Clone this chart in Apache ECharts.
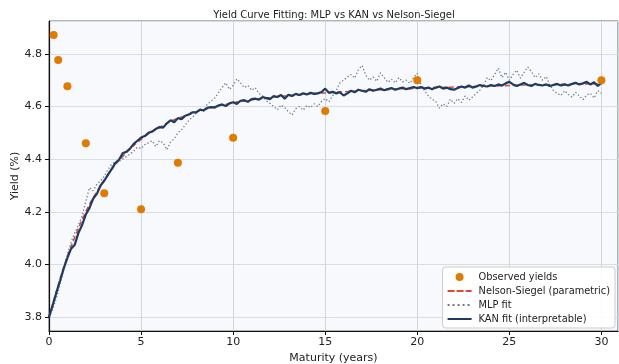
<!DOCTYPE html>
<html>
<head>
<meta charset="utf-8">
<script src="https://cdn.jsdelivr.net/npm/echarts@6/dist/echarts.min.js"></script>
<style>
  html, body { margin: 0; padding: 0; background: #fff; }
  #yieldChart { width: 619px; height: 364px; }
</style>
</head>
<body>
<div id="yieldChart"></div>
<script>
// observed points
var obsMaturity = [0.25, 0.5, 1, 2, 3, 5, 7, 10, 15, 20, 30];
var obsYield = [4.872, 4.777, 4.677, 4.46, 4.27, 4.21, 4.386, 4.481, 4.583, 4.70, 4.70];

// Nelson-Siegel, every 0.5 year
var nsYield = [3.80, 3.92, 4.03, 4.12, 4.20, 4.265, 4.32, 4.37, 4.41, 4.445,
  4.475, 4.50, 4.52, 4.54, 4.555, 4.568, 4.58, 4.59, 4.60, 4.607,
  4.614, 4.62, 4.625, 4.63, 4.634, 4.638, 4.641, 4.644, 4.647, 4.65,
  4.652, 4.654, 4.656, 4.658, 4.66, 4.662, 4.664, 4.665, 4.667, 4.668,
  4.67, 4.671, 4.672, 4.673, 4.674, 4.675, 4.676, 4.677, 4.678, 4.679,
  4.68, 4.681, 4.682, 4.682, 4.683, 4.684, 4.684, 4.685, 4.686, 4.686, 4.687];

// KAN fit, every 0.2 year
var kanYield = [3.800, 3.845, 3.893, 3.938, 3.985, 4.025, 4.060, 4.075, 4.120, 4.150,
  4.190, 4.215, 4.250, 4.268, 4.300, 4.318, 4.340, 4.362, 4.385, 4.398,
  4.422, 4.428, 4.440, 4.458, 4.470, 4.482, 4.488, 4.500, 4.505, 4.515,
  4.522, 4.520, 4.536, 4.548, 4.540, 4.556, 4.552, 4.565, 4.570, 4.578,
  4.578, 4.588, 4.585, 4.595, 4.598, 4.596, 4.604, 4.608, 4.602, 4.612,
  4.616, 4.610, 4.622, 4.624, 4.618, 4.628, 4.630, 4.626, 4.636, 4.632,
  4.628, 4.640, 4.636, 4.644, 4.630, 4.645, 4.640, 4.648, 4.644, 4.650,
  4.646, 4.652, 4.648, 4.650, 4.655, 4.668, 4.652, 4.656, 4.650, 4.654,
  4.642, 4.650, 4.660, 4.654, 4.664, 4.660, 4.656, 4.666, 4.660, 4.664,
  4.668, 4.662, 4.666, 4.670, 4.664, 4.668, 4.672, 4.666, 4.670, 4.674,
  4.670, 4.674, 4.668, 4.672, 4.666, 4.672, 4.676, 4.668, 4.672, 4.666,
  4.664, 4.670, 4.676, 4.672, 4.680, 4.672, 4.676, 4.682, 4.678, 4.676,
  4.682, 4.678, 4.684, 4.680, 4.688, 4.694, 4.684, 4.678, 4.684, 4.690,
  4.682, 4.678, 4.686, 4.682, 4.680, 4.684, 4.678, 4.682, 4.686, 4.680,
  4.684, 4.680, 4.686, 4.690, 4.684, 4.688, 4.694, 4.684, 4.692, 4.678, 4.690];

// MLP fit, every 0.2 year
var mlpYield = [3.800, 3.830, 3.872, 3.925, 3.982, 4.040, 4.085, 4.120, 4.150, 4.185,
  4.240, 4.292, 4.280, 4.305, 4.318, 4.335, 4.360, 4.380, 4.390, 4.392,
  4.400, 4.410, 4.420, 4.430, 4.445, 4.440, 4.455, 4.462, 4.470, 4.448,
  4.470, 4.462, 4.436, 4.465, 4.478, 4.500, 4.512, 4.530, 4.548, 4.560,
  4.575, 4.590, 4.582, 4.610, 4.620, 4.632, 4.652, 4.672, 4.690, 4.665,
  4.680, 4.705, 4.690, 4.672, 4.680, 4.662, 4.672, 4.650, 4.640, 4.622,
  4.612, 4.600, 4.588, 4.606, 4.596, 4.580, 4.568, 4.592, 4.600, 4.586,
  4.604, 4.596, 4.610, 4.600, 4.620, 4.630, 4.618, 4.640, 4.662, 4.690,
  4.700, 4.712, 4.722, 4.708, 4.740, 4.756, 4.720, 4.700, 4.712, 4.696,
  4.728, 4.710, 4.692, 4.704, 4.690, 4.710, 4.694, 4.700, 4.688, 4.710,
  4.726, 4.682, 4.660, 4.640, 4.628, 4.620, 4.594, 4.610, 4.600, 4.628,
  4.612, 4.630, 4.616, 4.640, 4.624, 4.636, 4.650, 4.662, 4.680, 4.710,
  4.698, 4.722, 4.746, 4.710, 4.730, 4.700, 4.722, 4.738, 4.708, 4.730,
  4.750, 4.732, 4.710, 4.724, 4.700, 4.714, 4.682, 4.660, 4.650, 4.642,
  4.660, 4.646, 4.636, 4.654, 4.640, 4.626, 4.644, 4.650, 4.632, 4.660, 4.650];

var xTicks = [0, 5, 10, 15, 20, 25, 30];
var yTicks = [3.8, 4.0, 4.2, 4.4, 4.6, 4.8];

function pairUp(step, vals) {
  return vals.map(function (v, i) { return [Math.round(i * step * 10) / 10, v]; });
}

var chart = echarts.init(document.querySelector('#yieldChart'), null, { renderer: 'canvas' });
var font = 'DejaVu Sans';

// legend icons: thin strokes inside a 24x8 box (tiny corner specks fix the box)
var box = 'M0,0h0.01v0.01h-0.01z M23.99,7.99h0.01v0.01h-0.01z ';
var iconDash = 'path://' + box + 'M0,3h7v2h-7z M9,3h7v2h-7z M18,3h6v2h-6z';
var iconDot = 'path://' + box + 'M0,3h2v2h-2z M5,3h2v2h-2z M10,3h2v2h-2z M15,3h2v2h-2z M20,3h2v2h-2z';
var iconSolid = 'path://' + box + 'M0,3h24v2h-24z';

option = {
  animation: false,
  title: {
    text: 'Yield Curve Fitting: MLP vs KAN vs Nelson-Siegel',
    left: 329,
    top: 5,
    textAlign: 'center',
    textStyle: { fontFamily: font, fontSize: 10, fontWeight: 'normal', color: '#222' }
  },
  grid: {
    left: 49, right: 1, top: 21, bottom: 33,
    outerBoundsMode: 'none',
    show: true,
    backgroundColor: '#f7f9fc',
    borderColor: '#444',
    borderWidth: 0.8
  },
  legend: {
    orient: 'vertical',
    right: 4,
    bottom: 36,
    itemWidth: 24,
    itemHeight: 8,
    itemGap: 4,
    padding: [5, 5, 4, 5],
    backgroundColor: 'rgba(255,255,255,0.9)',
    borderColor: '#cccccc',
    borderWidth: 1,
    borderRadius: 3,
    textStyle: { fontFamily: font, fontSize: 9.8, color: '#222', padding: [0, 0, 0, 2] },
    data: [
      { name: 'Observed yields', icon: 'circle', itemStyle: { color: '#e07b00' } },
      { name: 'Nelson-Siegel (parametric)', icon: iconDash },
      { name: 'MLP fit', icon: iconDot },
      { name: 'KAN fit (interpretable)', icon: iconSolid }
    ]
  },
  xAxis: {
    type: 'value',
    min: 0,
    max: 30.9,
    interval: 5,
    name: 'Maturity (years)',
    nameLocation: 'middle',
    nameGap: 19,
    nameTextStyle: { fontFamily: font, fontSize: 11, color: '#222' },
    axisLine: { lineStyle: { color: '#111', width: 1.2 } },
    axisTick: { show: true, length: 4, lineStyle: { color: '#111' } },
    axisLabel: {
      fontFamily: font, fontSize: 11, color: '#222', margin: 6,
      showMaxLabel: false,
      formatter: function (v) { return xTicks.indexOf(v) >= 0 ? String(v) : ''; }
    },
    splitLine: { show: true, lineStyle: { color: '#cfd6e0', width: 1 } }
  },
  yAxis: {
    type: 'value',
    min: 3.747,
    max: 4.925,
    splitNumber: 5,
    name: 'Yield (%)',
    nameLocation: 'middle',
    nameGap: 28,
    nameMoveOverlap: false,
    nameTextStyle: { fontFamily: font, fontSize: 11, color: '#222' },
    axisLine: { show: true, lineStyle: { color: '#111', width: 1.2 } },
    axisTick: { show: true, length: 4, lineStyle: { color: '#111' } },
    axisLabel: {
      fontFamily: font, fontSize: 11, color: '#222', margin: 7,
      showMinLabel: false, showMaxLabel: false,
      formatter: function (v) {
        for (var i = 0; i < yTicks.length; i++) {
          if (Math.abs(v - yTicks[i]) < 1e-6) return yTicks[i].toFixed(1);
        }
        return '';
      }
    },
    splitLine: { show: true, lineStyle: { color: '#d8dde6', width: 1 } }
  },
  series: [
    {
      name: 'Observed yields',
      type: 'scatter',
      symbol: 'circle',
      symbolSize: 8,
      itemStyle: { color: '#e07b00', opacity: 1 },
      z: 5,
      data: obsMaturity.map(function (m, i) { return [m, obsYield[i]]; })
    },
    {
      name: 'Nelson-Siegel (parametric)',
      type: 'line',
      symbol: 'none',
      smooth: true,
      lineStyle: { color: '#d64b3a', width: 1.6, type: [5, 3] },
      itemStyle: { color: '#d64b3a' },
      z: 2,
      data: pairUp(0.5, nsYield)
    },
    {
      name: 'MLP fit',
      type: 'line',
      symbol: 'none',
      lineStyle: { color: '#6b7a8c', width: 1.3, type: [1.3, 2.2] },
      itemStyle: { color: '#6b7a8c' },
      z: 3,
      data: pairUp(0.2, mlpYield)
    },
    {
      name: 'KAN fit (interpretable)',
      type: 'line',
      symbol: 'none',
      lineStyle: { color: '#1f3a63', width: 2.2 },
      itemStyle: { color: '#1f3a63' },
      z: 4,
      data: pairUp(0.2, kanYield)
    }
  ]
};
chart.setOption(option);
</script>
</body>
</html>
